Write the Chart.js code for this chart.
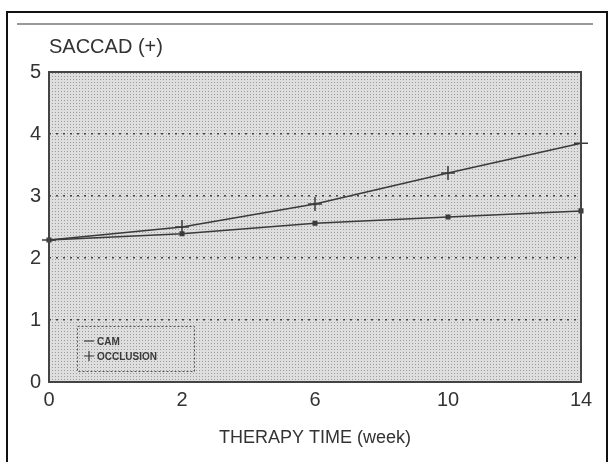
<!DOCTYPE html>
<html>
<head>
<meta charset="utf-8">
<script src="https://cdn.jsdelivr.net/npm/chart.js@4.4.1/dist/chart.umd.min.js"></script>
<style>
  html, body { margin: 0; padding: 0; background: #fff; overflow: hidden; }
  #wrap { position: relative; width: 609px; height: 462px; }
  #frame { position: absolute; left: 6px; top: 11px; width: 598px; height: 470px; border: 2px solid #111; }
  #scanline { position: absolute; left: 17px; top: 23px; width: 576px; height: 2px; background: #999; }
  canvas { position: absolute; left: 0; top: 0; }
</style>
</head>
<body>
<div id="wrap">
  <div id="frame"></div>
  <div id="scanline"></div>
  <canvas id="myChart" width="609" height="462"></canvas>
</div>
<script>
const weeks = ['0', '2', '6', '10', '14'];
const camValues = [2.29, 2.39, 2.56, 2.66, 2.76];
const occlusionValues = [2.29, 2.5, 2.87, 3.37, 3.85];
const yMin = 0, yMax = 5, yStep = 1;

const ink = '#3a3a3a';
const fontFamily = '"Liberation Sans", Arial, sans-serif';

// stippled grey fill of the plot, like the printed screen tone
function makePattern(ctx) {
  const c = document.createElement('canvas');
  c.width = 3; c.height = 3;
  const p = c.getContext('2d');
  p.fillStyle = '#dedede';
  p.fillRect(0, 0, 3, 3);
  p.fillStyle = '#9c9c9c';
  p.fillRect(1, 1, 1, 1);
  return ctx.createPattern(c, 'repeat');
}

const plotFrame = {
  id: 'plotFrame',
  beforeDraw(chart) {
    const { ctx, chartArea: a } = chart;
    ctx.save();
    ctx.fillStyle = makePattern(ctx);
    ctx.fillRect(a.left, a.top, a.right - a.left, a.bottom - a.top);
    ctx.restore();
  },
  afterDraw(chart) {
    const { ctx, chartArea: a } = chart;
    ctx.save();
    ctx.strokeStyle = '#444';
    ctx.lineWidth = 2;
    ctx.strokeRect(a.left, a.top, a.right - a.left, a.bottom - a.top);
    ctx.restore();
  }
};

// small boxed legend in the lower-left corner of the plot
const boxLegend = {
  id: 'boxLegend',
  afterDraw(chart) {
    const { ctx, chartArea: a } = chart;
    const x = a.left + 28, y = a.bottom - 56, w = 117, h = 45;
    ctx.save();
    ctx.strokeStyle = '#555';
    ctx.lineWidth = 1;
    ctx.setLineDash([2, 2]);
    ctx.strokeRect(x + 0.5, y + 0.5, w, h);
    ctx.setLineDash([]);
    ctx.font = 'bold 10px ' + fontFamily;
    ctx.fillStyle = ink;
    ctx.strokeStyle = ink;
    ctx.textBaseline = 'middle';
    chart.data.datasets.forEach((ds, i) => {
      const cy = y + 15 + i * 15;
      const mx = x + 12;
      ctx.lineWidth = 1.2;
      ctx.beginPath();
      ctx.moveTo(mx - 5, cy);
      ctx.lineTo(mx + 5, cy);
      if (ds.pointStyle === 'cross') {
        ctx.moveTo(mx, cy - 5);
        ctx.lineTo(mx, cy + 5);
      }
      ctx.stroke();
      ctx.fillText(ds.label, mx + 8, cy + 1);
    });
    ctx.restore();
  }
};

const ctx = document.getElementById('myChart').getContext('2d');
const myChart = new Chart(ctx, {
  type: 'line',
  data: {
    labels: weeks,
    datasets: [
      {
        label: 'CAM',
        data: camValues,
        borderColor: ink,
        backgroundColor: ink,
        borderWidth: 1.5,
        pointStyle: 'rect',
        pointRadius: 2.5,
        tension: 0,
        clip: false
      },
      {
        label: 'OCCLUSION',
        data: occlusionValues,
        borderColor: ink,
        backgroundColor: ink,
        borderWidth: 1.5,
        pointStyle: 'cross',
        pointRadius: 7,
        pointBorderWidth: 1.5,
        tension: 0,
        clip: false
      }
    ]
  },
  options: {
    responsive: false,
    animation: false,
    layout: { padding: { left: 0, right: 28, top: 0, bottom: 0 } },
    plugins: {
      legend: { display: false },
      tooltip: { enabled: false },
      title: {
        display: true,
        text: 'SACCAD (+)',
        align: 'start',
        fullSize: false,
        color: '#333',
        font: { family: fontFamily, size: 20, weight: 'normal' },
        padding: { top: 35, bottom: 13 }
      }
    },
    scales: {
      x: {
        type: 'category',
        offset: false,
        grid: { display: false, drawTicks: false },
        border: { display: false },
        ticks: {
          color: '#333',
          padding: 6,
          maxRotation: 0,
          font: { family: fontFamily, size: 20 }
        },
        title: {
          display: true,
          text: 'THERAPY TIME (week)',
          color: '#333',
          font: { family: fontFamily, size: 18 },
          padding: { top: 4, bottom: 13 }
        },
        afterFit(scale) { scale.height = 80; }
      },
      y: {
        min: yMin,
        max: yMax,
        grid: {
          drawTicks: false,
          lineWidth: 1.5,
          color: (c) => (c.tick && (c.tick.value === yMin || c.tick.value === yMax)) ? 'rgba(0,0,0,0)' : '#444'
        },
        border: { display: false, dash: [2, 5] },
        ticks: {
          stepSize: yStep,
          color: '#333',
          padding: 8,
          font: { family: fontFamily, size: 20 }
        },
        afterFit(scale) { scale.width = 49; }
      }
    }
  },
  plugins: [plotFrame, boxLegend]
});
</script>
</body>
</html>
